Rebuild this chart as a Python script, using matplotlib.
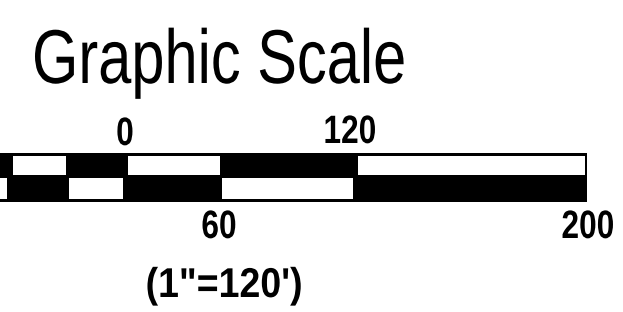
import matplotlib
matplotlib.use("Agg")
import matplotlib.pyplot as plt
from matplotlib.patheffects import AbstractPathEffect
from matplotlib.transforms import Affine2D

# ---- data (positions, in pixel-like units) ----
title = "Graphic Scale"
scale_note = "(1\"=120')"

bar_extent = [0, 587]                 # outer black bar
top_white_starts = [13, 128, 358]
top_white_ends = [66, 220, 585]
bottom_white_starts = [0, 69, 222]
bottom_white_ends = [7, 123, 353]

top_labels = ["0", "120"]
top_label_x = [125, 350]
bottom_labels = ["60", "200"]
bottom_label_x = [219, 588]

fam = "Liberation Sans"


class Condense(AbstractPathEffect):
    """Horizontally condense text glyphs about a fixed display x."""

    def __init__(self, sx, x0):
        super().__init__()
        self.sx = sx
        self.x0 = x0

    def draw_path(self, renderer, gc, tpath, affine, rgbFace=None):
        t = affine + Affine2D().translate(-self.x0, 0).scale(self.sx, 1).translate(self.x0, 0)
        renderer.draw_path(gc, tpath, t, rgbFace)


W, H = 623, 312
fig = plt.figure(figsize=(W / 100, H / 100), dpi=100)
ax = fig.add_axes([0, 0, 1, 1])
ax.set_xlim(0, W)
ax.set_ylim(H, 0)
ax.axis("off")


def ctext(x, y, s, sx, **kw):
    x0 = ax.transData.transform((x, y))[0]
    return ax.text(x, y, s, family=fam, color="black", va="baseline",
                   path_effects=[Condense(sx, x0)], **kw)


# outer black bar
ax.barh(177.5, bar_extent[1] - bar_extent[0], left=bar_extent[0], height=49,
        color="black", linewidth=0)
# top row whites
ax.barh(165.5, [e - s for s, e in zip(top_white_starts, top_white_ends)],
        left=top_white_starts, height=19, color="white", linewidth=0)
# bottom row whites
ax.barh(188.5, [e - s for s, e in zip(bottom_white_starts, bottom_white_ends)],
        left=bottom_white_starts, height=21, color="white", linewidth=0)

ctext(32, 83, title, 0.78, fontsize=55, ha="left")
for lab, x, yb in zip(top_labels, top_label_x, [145, 143]):
    ctext(x, yb, lab, 0.8, fontsize=28.5, fontweight="bold", ha="center")
for lab, x in zip(bottom_labels, bottom_label_x):
    ctext(x, 238, lab, 0.8, fontsize=28.5, fontweight="bold", ha="center")
ctext(224, 297, scale_note, 0.9, fontsize=30, fontweight="bold", ha="center")

fig.savefig("out.png", dpi=100, facecolor="white")
